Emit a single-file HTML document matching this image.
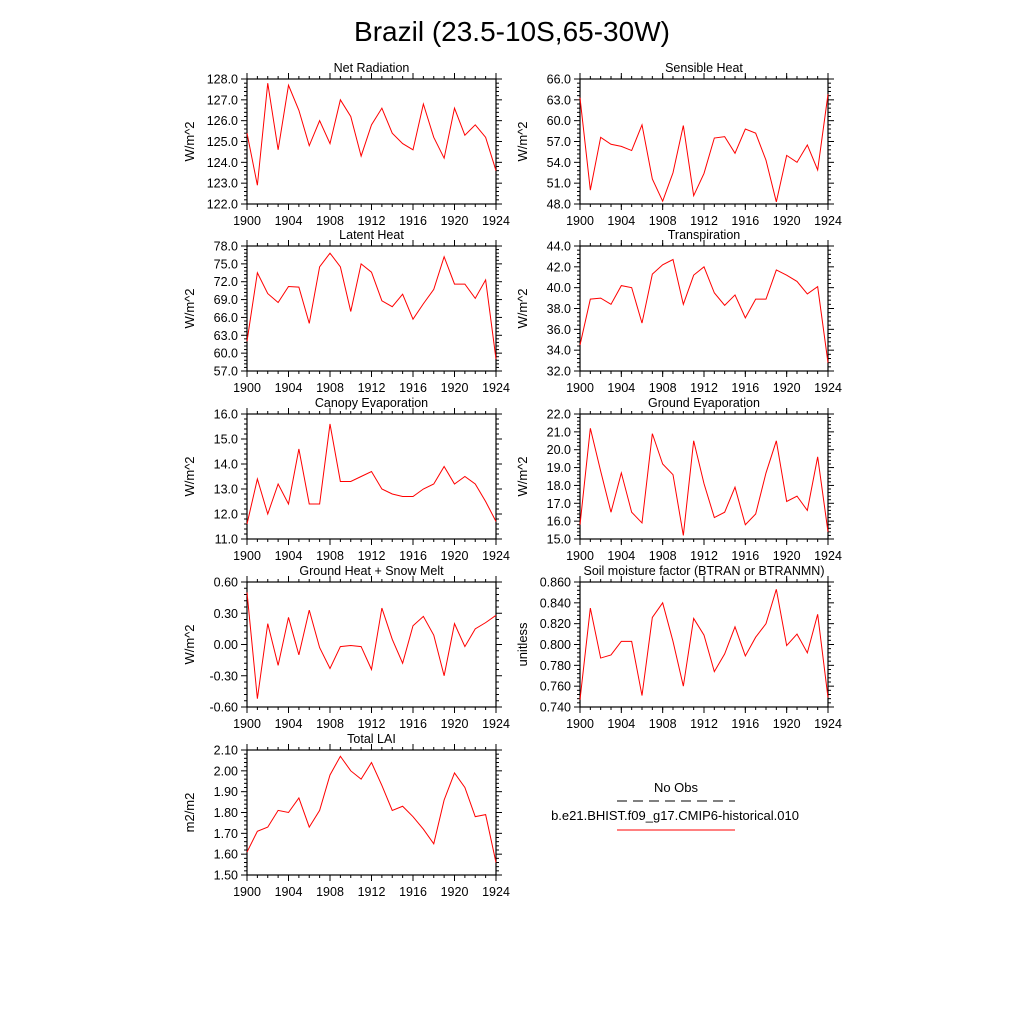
<!DOCTYPE html>
<html><head><meta charset="utf-8"><style>body{margin:0;background:#fff}svg{font-family:"Liberation Sans",sans-serif}</style></head>
<body>
<svg id="c" width="1024" height="1024" xmlns="http://www.w3.org/2000/svg">
<text x="512" y="41" font-size="28" text-anchor="middle">Brazil (23.5-10S,65-30W)</text>
<g>
<text x="676" y="792" font-size="13" text-anchor="middle">No Obs</text>
<line x1="617" y1="801" x2="735" y2="801" stroke="#000" stroke-dasharray="10,6"/>
<text x="675" y="820" font-size="13" text-anchor="middle">b.e21.BHIST.f09_g17.CMIP6-historical.010</text>
<line x1="617" y1="830" x2="735" y2="830" stroke="red"/>
</g>
</svg>
<script>
const years = [1900,1901,1902,1903,1904,1905,1906,1907,1908,1909,1910,1911,1912,1913,1914,1915,1916,1917,1918,1919,1920,1921,1922,1923,1924];
const xTicks = [1900,1904,1908,1912,1916,1920,1924];
const netRad = [125.4,122.9,127.8,124.6,127.7,126.5,124.8,126.0,124.9,127.0,126.2,124.3,125.8,126.6,125.4,124.9,124.6,126.8,125.2,124.2,126.6,125.3,125.8,125.2,123.6];
const sensible = [63.3,50.0,57.6,56.6,56.3,55.7,59.4,51.6,48.4,52.5,59.3,49.2,52.4,57.5,57.7,55.3,58.8,58.2,54.3,48.3,55.0,54.0,56.5,52.9,63.8];
const latent = [62,73.5,70,68.5,71.2,71.1,65,74.5,76.8,74.5,67,75,73.6,68.8,67.8,69.9,65.7,68.3,70.7,76.2,71.6,71.6,69.2,72.3,59];
const transp = [34.5,38.9,39.0,38.4,40.2,40.0,36.6,41.3,42.2,42.7,38.4,41.2,42.0,39.5,38.3,39.3,37.1,38.9,38.9,41.7,41.2,40.6,39.4,40.1,32.8];
const canopy = [11.6,13.4,12.0,13.2,12.4,14.6,12.4,12.4,15.6,13.3,13.3,13.5,13.7,13.0,12.8,12.7,12.7,13.0,13.2,13.9,13.2,13.5,13.2,12.5,11.7];
const groundEvap = [15.8,21.2,18.8,16.5,18.7,16.5,15.9,20.9,19.2,18.6,15.2,20.5,18.1,16.2,16.5,17.9,15.8,16.4,18.7,20.5,17.1,17.4,16.6,19.6,15.4];
const groundHeat = [0.5,-0.52,0.2,-0.2,0.26,-0.1,0.33,-0.03,-0.23,-0.02,-0.01,-0.02,-0.24,0.35,0.05,-0.18,0.18,0.27,0.09,-0.3,0.2,-0.02,0.15,0.21,0.28];
const soil = [0.747,0.835,0.787,0.790,0.803,0.803,0.751,0.826,0.840,0.803,0.760,0.825,0.809,0.774,0.791,0.817,0.789,0.807,0.820,0.853,0.799,0.810,0.792,0.829,0.749];
const lai = [1.61,1.71,1.73,1.81,1.80,1.87,1.73,1.81,1.98,2.07,2.00,1.96,2.04,1.93,1.81,1.83,1.78,1.72,1.65,1.86,1.99,1.92,1.78,1.79,1.56];
const panels = [
 {name:'net-radiation',title:'Net Radiation',unit:'W/m^2',data:netRad,min:122,max:128,step:1,dec:1,col:0,row:0},
 {name:'sensible-heat',title:'Sensible Heat',unit:'W/m^2',data:sensible,min:48,max:66,step:3,dec:1,col:1,row:0},
 {name:'latent-heat',title:'Latent Heat',unit:'W/m^2',data:latent,min:57,max:78,step:3,dec:1,col:0,row:1},
 {name:'transpiration',title:'Transpiration',unit:'W/m^2',data:transp,min:32,max:44,step:2,dec:1,col:1,row:1},
 {name:'canopy-evaporation',title:'Canopy Evaporation',unit:'W/m^2',data:canopy,min:11,max:16,step:1,dec:1,col:0,row:2},
 {name:'ground-evaporation',title:'Ground Evaporation',unit:'W/m^2',data:groundEvap,min:15,max:22,step:1,dec:1,col:1,row:2},
 {name:'ground-heat',title:'Ground Heat + Snow Melt',unit:'W/m^2',data:groundHeat,min:-0.6,max:0.6,step:0.3,dec:2,col:0,row:3},
 {name:'soil-moisture',title:'Soil moisture factor (BTRAN or BTRANMN)',unit:'unitless',data:soil,min:0.74,max:0.86,step:0.02,dec:3,col:1,row:3},
 {name:'total-lai',title:'Total LAI',unit:'m2/m2',data:lai,min:1.5,max:2.1,step:0.1,dec:2,col:0,row:4}
];
const svg = document.getElementById('c');
const NS = 'http://www.w3.org/2000/svg';
function mk(tag, attrs, parent){const e=document.createElementNS(NS,tag);for(const k in attrs)e.setAttribute(k,attrs[k]);(parent||svg).appendChild(e);return e;}
const colX=[[247,496],[580,828]], rowY=[79,246,414,582,750], H=125;
panels.forEach(p=>{
 const [x0,x1]=colX[p.col], y0=rowY[p.row], y1=y0+H;
 const g=mk('g',{});
 
 
 const xs=v=>x0+(v-1900)/24*(x1-x0);
 const ys=v=>y1-(v-p.min)/(p.max-p.min)*H;
 const box=mk('rect',{x:x0,y:y0,width:x1-x0,height:H,fill:'none',stroke:'#000','stroke-width':1.2},g);
 
 
 const t=mk('text',{x:(x0+x1)/2,y:y0-7,'font-size':12.5,'text-anchor':'middle'},g);t.textContent=p.title;
 
 
 const yl=mk('text',{x:0,y:0,'font-size':13,'text-anchor':'middle',transform:`translate(${x0-53},${(y0+y1)/2}) rotate(-90)`},g);yl.textContent=p.unit;
 
 
 xTicks.forEach(v=>{const x=xs(v);
  mk('line',{x1:x,y1:y1,x2:x,y2:y1+6,stroke:'#000'},g);mk('line',{x1:x,y1:y0,x2:x,y2:y0-6,stroke:'#000'},g);
  const l=mk('text',{x:x,y:y1+21,'font-size':12.5,'text-anchor':'middle'},g);l.textContent=v;
  
  
 });
 years.forEach(v=>{const x=xs(v);mk('line',{x1:x,y1:y1,x2:x,y2:y1+3,stroke:'#000'},g);mk('line',{x1:x,y1:y0,x2:x,y2:y0-3,stroke:'#000'},g);});
 const n=Math.round((p.max-p.min)/p.step);
 for(let i=0;i<=n;i++){const v=p.min+i*p.step,y=ys(v);
  mk('line',{x1:x0,y1:y,x2:x0-6,y2:y,stroke:'#000'},g);mk('line',{x1:x1,y1:y,x2:x1+6,y2:y,stroke:'#000'},g);
  const l=mk('text',{x:x0-9,y:y+4.5,'font-size':12.5,'text-anchor':'end'},g);l.textContent=v.toFixed(p.dec);
  
  
  if(i<n)for(let k=1;k<5;k++){const yy=ys(v+p.step*k/5);mk('line',{x1:x0,y1:yy,x2:x0-3,y2:yy,stroke:'#000'},g);mk('line',{x1:x1,y1:yy,x2:x1+3,y2:yy,stroke:'#000'},g);}
 }
 const pl=mk('polyline',{points:p.data.map((v,i)=>xs(years[i])+','+ys(v)).join(' '),fill:'none',stroke:'red','stroke-width':1},g);
 
 
});
</script>
</body></html>
